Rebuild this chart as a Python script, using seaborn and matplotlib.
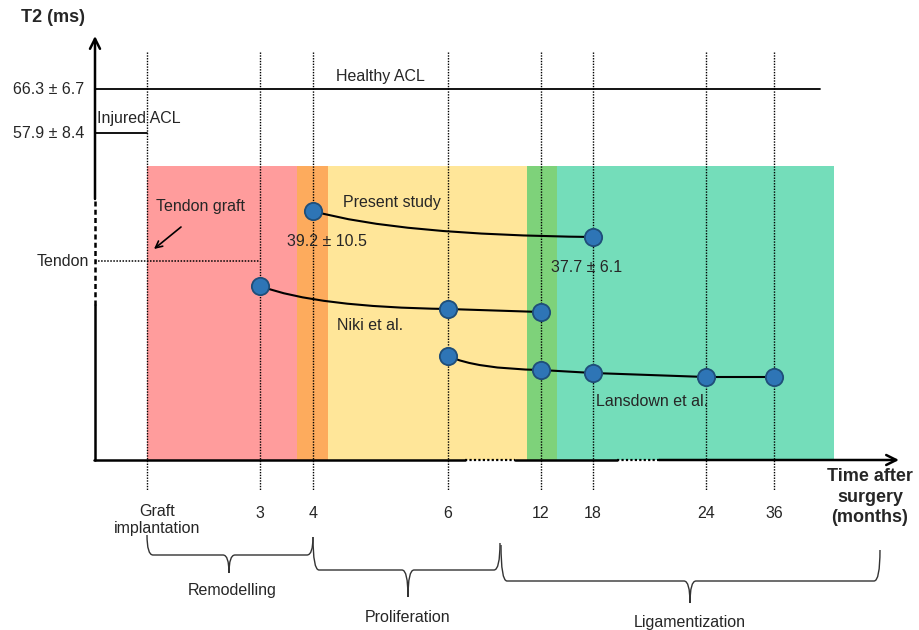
import matplotlib
matplotlib.use('Agg')
import matplotlib.pyplot as plt
from matplotlib.path import Path
from matplotlib.patches import PathPatch, Rectangle
import seaborn as sns
import pandas as pd

##################################################################################
# data (schematic units: x = position along time axis, y = T2 level on schematic)
##################################################################################
time_labels = ['Graft\nimplantation', '3', '4', '6', '12', '18', '24', '36']
time_pos = [52, 165, 218, 353, 446, 498, 611, 679]

present_t = ['4', '18']
present_t2 = [249, 223]
niki_t = ['3', '6', '12']
niki_t2 = [174, 151, 148]
lansdown_t = ['6', '12', '18', '24', '36']
lansdown_t2 = [104, 90, 87, 83, 83]

ref_labels = ['66.3 ± 6.7', '57.9 ± 8.4', 'Tendon']
ref_levels = [371, 327, 199]

# healing phase bands
band_edges = [52, 202, 233, 432, 462, 739]
band_colors = ['#FF9C9C', '#FDAB5D', '#FFE699', '#7ED27A', '#74DDBA']
band_top = 294

phase_names = ['Remodelling', 'Proliferation', 'Ligamentization']

FS = 11.5

##################################################################################
# plotting
##################################################################################
sns.set_theme(style='white')
plt.rcParams['font.family'] = ['Liberation Sans', 'DejaVu Sans']

fig = plt.figure(figsize=(9.19, 6.30), dpi=100)
ax = fig.add_axes([0, 0, 1, 1])

pos = dict(zip(time_labels, time_pos))

# phase bands
for i in range(len(band_colors)):
    ax.add_patch(Rectangle((band_edges[i], 0), band_edges[i + 1] - band_edges[i],
                           band_top, color=band_colors[i], lw=0, zorder=0))

# vertical dotted guides
for p in time_pos:
    ax.plot([p, p], [408, -30], ls=(0, (1, 1)), color='black', lw=1.0, zorder=1)

# axes: y with a break, x with two breaks
ax.plot([0, 0], [0, 155], color='black', lw=1.8, zorder=3)
ax.plot([0, 0], [155, 262], color='black', lw=1.8, ls=(0, (2, 1.3)), zorder=3)
ax.annotate('', xy=(0, 424), xytext=(0, 261),
            arrowprops=dict(arrowstyle='->', lw=1.8, color='black',
                            mutation_scale=18, shrinkA=0, shrinkB=0), zorder=3)
ax.plot([-1, 370], [0, 0], color='black', lw=1.8, zorder=3)
ax.plot([370, 420], [0, 0], color='black', lw=1.6, ls=(0, (1, 1)), zorder=3)
ax.plot([420, 522], [0, 0], color='black', lw=1.8, zorder=3)
ax.plot([522, 565], [0, 0], color='black', lw=1.6, ls=(0, (1, 1)), zorder=3)
ax.annotate('', xy=(804, 0), xytext=(564, 0),
            arrowprops=dict(arrowstyle='->', lw=1.8, color='black',
                            mutation_scale=18, shrinkA=0, shrinkB=0), zorder=3)

# reference levels
ax.plot([0, 725], [ref_levels[0], ref_levels[0]], color='black', lw=1.3)
ax.plot([0, pos['Graft\nimplantation']], [ref_levels[1], ref_levels[1]],
        color='black', lw=1.3)
ax.plot([0, pos['3']], [ref_levels[2], ref_levels[2]], color='black', lw=1.1,
        ls=(0, (1, 1)), zorder=2)
for lab, lev in zip(ref_labels, ref_levels):
    ax.text(-11 if lab != 'Tendon' else -6, lev, lab, ha='right', va='center',
            fontsize=FS)

ax.text(285, 383, 'Healthy ACL', ha='center', va='center', fontsize=FS)
ax.text(2, 341, 'Injured ACL', ha='left', va='center', fontsize=FS)
ax.text(105, 253, 'Tendon graft', ha='center', va='center', fontsize=FS)
ax.annotate('', xy=(59, 211), xytext=(86, 233),
            arrowprops=dict(arrowstyle='->', lw=1.2, color='black',
                            mutation_scale=12, shrinkA=0, shrinkB=0))


# curves between studies' time points
def draw_series(ts, vals):
    xs = [pos[t] for t in ts]
    verts = [(xs[0], vals[0])]
    codes = [Path.MOVETO]
    dx = xs[1] - xs[0]
    verts += [(xs[0] + 0.3 * dx, vals[1] + 0.08 * (vals[0] - vals[1])),
              (xs[1], vals[1])]
    codes += [Path.CURVE3, Path.CURVE3]
    for x, v in zip(xs[2:], vals[2:]):
        verts.append((x, v))
        codes.append(Path.LINETO)
    ax.add_patch(PathPatch(Path(verts, codes), fill=False, lw=1.5,
                           edgecolor='black', zorder=4))


draw_series(present_t, present_t2)
draw_series(niki_t, niki_t2)
draw_series(lansdown_t, lansdown_t2)

pts = pd.DataFrame({
    'x': [pos[t] for t in present_t + niki_t + lansdown_t],
    'y': present_t2 + niki_t2 + lansdown_t2,
})
sns.scatterplot(data=pts, x='x', y='y', ax=ax, s=155, color='#2E75B6',
                edgecolor='#1F4E79', linewidth=1.3, zorder=5, legend=False)
ax.set_xlim(-95, 824)
ax.set_ylim(-170, 460)
ax.axis('off')

ax.text(297, 257, 'Present study', ha='center', va='center', fontsize=FS)
ax.text(232, 218, '39.2 ± 10.5', ha='center', va='center', fontsize=FS)
ax.text(492, 192, '37.7 ± 6.1', ha='center', va='center', fontsize=FS)
ax.text(275, 134, 'Niki et al.', ha='center', va='center', fontsize=FS)
ax.text(557, 59, 'Lansdown et al.', ha='center', va='center', fontsize=FS)

# tick labels
for lab, p in zip(time_labels, time_pos):
    if '\n' in lab:
        ax.text(p + 10, -44, lab, ha='center', va='top', fontsize=FS,
                linespacing=1.2)
    else:
        ax.text(p, -53, lab, ha='center', va='center', fontsize=FS)

ax.text(-42, 442, 'T2 (ms)', ha='center', va='center', fontsize=13,
        fontweight='bold')
ax.text(775, -37, 'Time after\nsurgery\n(months)', ha='center', va='center',
        fontsize=13, fontweight='bold', linespacing=1.3)


# curly braces for healing phases
def brace(x0, y0, x1, y1, xc, ymid, ytip, r=6):
    verts = [(x0, y0), (x0, ymid), (x0 + r, ymid), (xc - r, ymid),
             (xc, ymid), (xc, ytip), (xc, ymid), (xc + r, ymid),
             (x1 - r, ymid), (x1, ymid), (x1, y1)]
    codes = [Path.MOVETO, Path.CURVE3, Path.CURVE3, Path.LINETO,
             Path.CURVE3, Path.CURVE3, Path.CURVE3, Path.CURVE3,
             Path.LINETO, Path.CURVE3, Path.CURVE3]
    ax.add_patch(PathPatch(Path(verts, codes), fill=False, lw=1.0,
                           edgecolor='#333333'))


brace(52, -75, 218, -77, 134, -95, -113)
brace(218, -77, 405, -83, 313, -110, -137)
brace(406, -85, 785, -90, 595, -121, -143)

ax.text(137, -131, phase_names[0], ha='center', va='center', fontsize=FS)
ax.text(313, -158, phase_names[1], ha='center', va='center', fontsize=FS)
ax.text(595, -163, phase_names[2], ha='center', va='center', fontsize=FS)

plt.savefig('out.png', dpi=100)
